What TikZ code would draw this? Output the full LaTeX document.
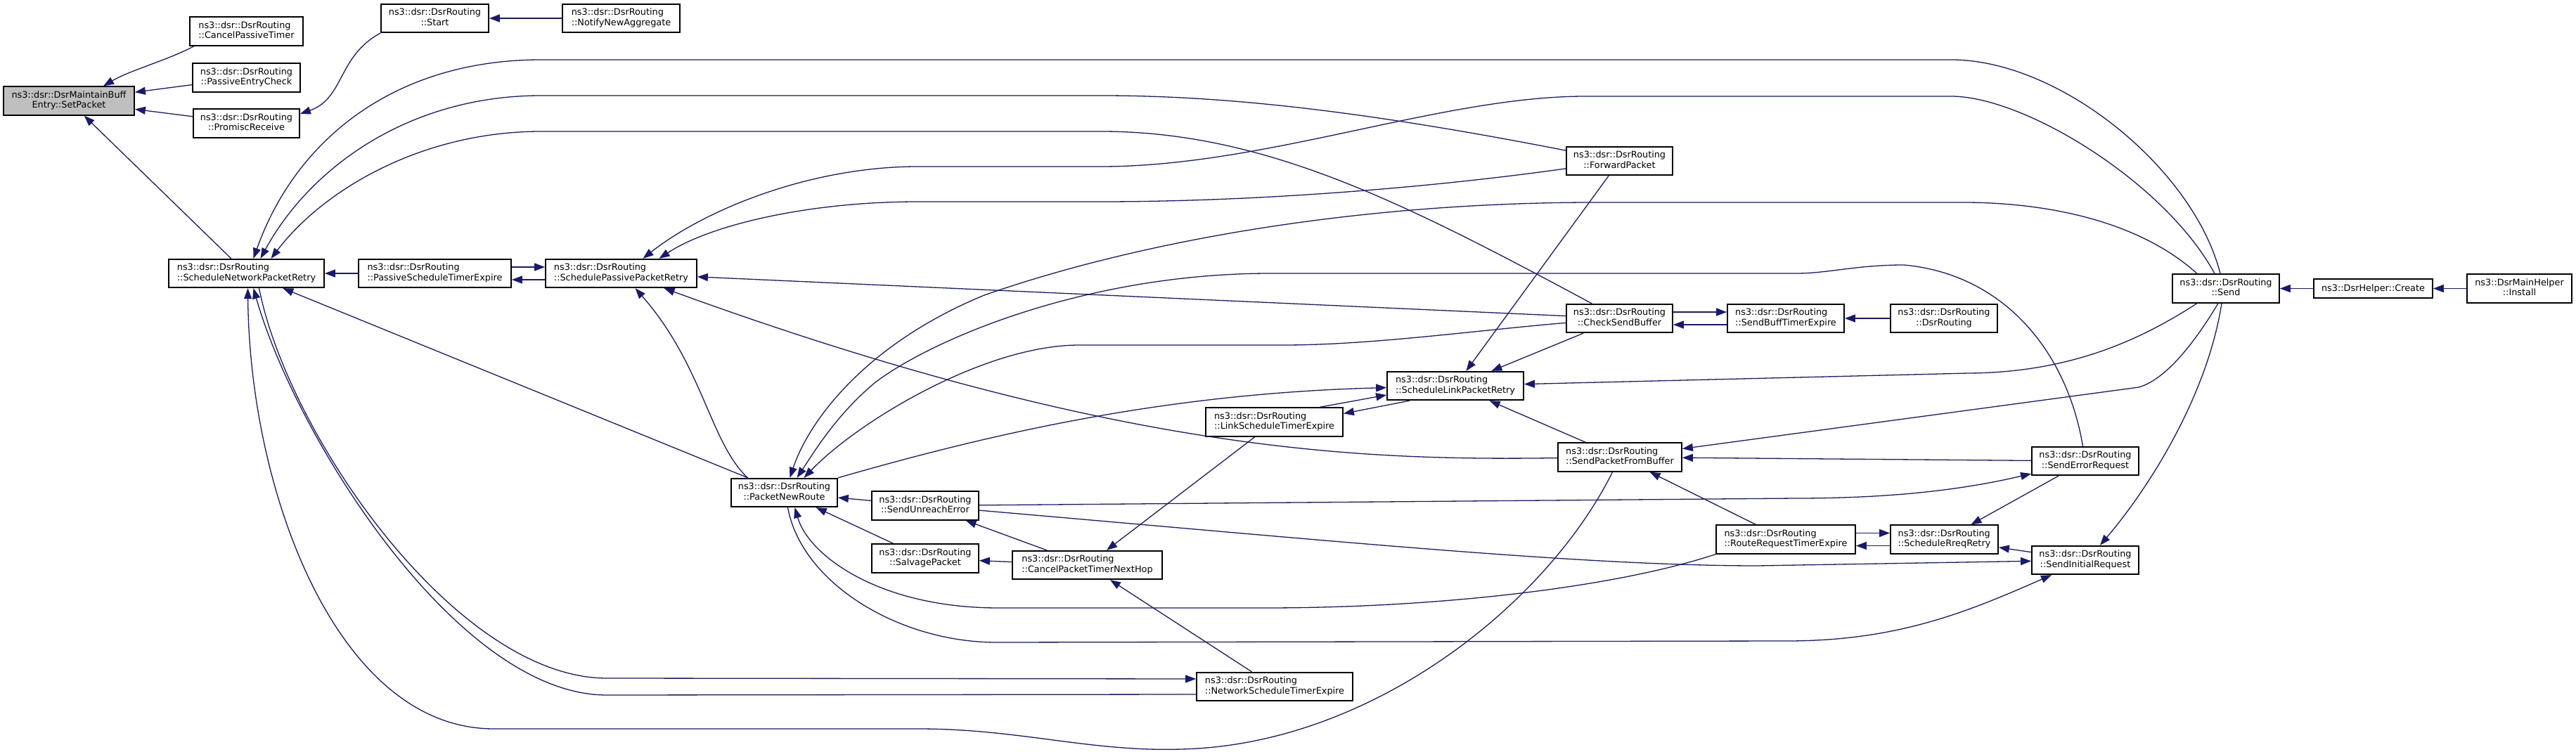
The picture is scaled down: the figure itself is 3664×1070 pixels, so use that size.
\documentclass[tikz,border=0pt]{standalone}
\usepackage{fontspec}
\setmainfont{DejaVu Sans}
\usepackage{tikz}
\usetikzlibrary{arrows.meta,calc}

\definecolor{edgeblue}{RGB}{25,25,112}
\definecolor{nodegray}{RGB}{191,191,191}

\newcommand{\twoline}[2]{\begin{tabular}{@{}l@{}}#1\\\multicolumn{1}{@{}c@{}}{#2}\end{tabular}}

\begin{document}
\begin{tikzpicture}[x=0.2mm, y=-0.2mm,
  fn/.style={draw, fill=white, line width=0.35mm, minimum width=#1, minimum height=8.1mm, inner sep=0.4mm, font=\fontsize{7.3}{8.4}\selectfont},
  call/.style={draw=edgeblue, line width=0.26mm, -{Triangle[length=3mm, width=2.2mm]}}]
\useasboundingbox (0,0) rectangle (3664,1070);

\node (setpkt) at (98,143.5) [fn=37.2mm, fill=nodegray] {\twoline{ns3::dsr::DsrMaintainBuff}{Entry::SetPacket}};
\node (cancel) at (350.5,44.5) [fn=32.2mm] {\twoline{ns3::dsr::DsrRouting}{::CancelPassiveTimer}};
\node (entry) at (350.5,110.5) [fn=30.6mm] {\twoline{ns3::dsr::DsrRouting}{::PassiveEntryCheck}};
\node (promisc) at (350.5,175.5) [fn=30.2mm] {\twoline{ns3::dsr::DsrRouting}{::PromiscReceive}};
\node (start) at (618.5,26) [fn=30.6mm] {\twoline{ns3::dsr::DsrRouting}{::Start}};
\node (notify) at (883.5,26) [fn=33.4mm] {\twoline{ns3::dsr::DsrRouting}{::NotifyNewAggregate}};
\node (snpr) at (350.5,389) [fn=44.2mm] {\twoline{ns3::dsr::DsrRouting}{::ScheduleNetworkPacketRetry}};
\node (pste) at (618.5,389) [fn=43.4mm] {\twoline{ns3::dsr::DsrRouting}{::PassiveScheduleTimerExpire}};
\node (sppr) at (883.5,389) [fn=43mm] {\twoline{ns3::dsr::DsrRouting}{::SchedulePassivePacketRetry}};
\node (pnr) at (1115.5,701) [fn=30.2mm] {\twoline{ns3::dsr::DsrRouting}{::PacketNewRoute}};
\node (sue) at (1316,719.5) [fn=30.4mm] {\twoline{ns3::dsr::DsrRouting}{::SendUnreachError}};
\node (salvage) at (1316,794.5) [fn=30.4mm] {\twoline{ns3::dsr::DsrRouting}{::SalvagePacket}};
\node (cptnh) at (1546.5,804) [fn=42.6mm] {\twoline{ns3::dsr::DsrRouting}{::CancelPacketTimerNextHop}};
\node (lste) at (1812.5,600.5) [fn=39mm] {\twoline{ns3::dsr::DsrRouting}{::LinkScheduleTimerExpire}};
\node (nste) at (1813,977) [fn=44.4mm] {\twoline{ns3::dsr::DsrRouting}{::NetworkScheduleTimerExpire}};
\node (slpr) at (2070,549) [fn=38.8mm] {\twoline{ns3::dsr::DsrRouting}{::ScheduleLinkPacketRetry}};
\node (fwd) at (2303.5,229) [fn=30.2mm] {\twoline{ns3::dsr::DsrRouting}{::ForwardPacket}};
\node (csb) at (2303.5,453) [fn=30.2mm] {\twoline{ns3::dsr::DsrRouting}{::CheckSendBuffer}};
\node (spfb) at (2304,650.5) [fn=35.2mm] {\twoline{ns3::dsr::DsrRouting}{::SendPacketFromBuffer}};
\node (sbte) at (2540,453) [fn=33.2mm] {\twoline{ns3::dsr::DsrRouting}{::SendBuffTimerExpire}};
\node (ctor) at (2765,453) [fn=30.4mm] {\twoline{ns3::dsr::DsrRouting}{::DsrRouting}};
\node (rrte) at (2540,767.5) [fn=39.6mm] {\twoline{ns3::dsr::DsrRouting}{::RouteRequestTimerExpire}};
\node (srr) at (2765.5,767.5) [fn=30.6mm] {\twoline{ns3::dsr::DsrRouting}{::ScheduleRreqRetry}};
\node (ser) at (2966,656) [fn=30.4mm] {\twoline{ns3::dsr::DsrRouting}{::SendErrorRequest}};
\node (sir) at (2966,797) [fn=30.4mm] {\twoline{ns3::dsr::DsrRouting}{::SendInitialRequest}};
\node (send) at (3166,410.5) [fn=30.4mm] {\twoline{ns3::dsr::DsrRouting}{::Send}};
\node (create) at (3375.5,410.5) [fn=33.8mm, minimum height=5.4mm] {ns3::DsrHelper::Create};
\node (install) at (3583.5,410.5) [fn=29.8mm] {\twoline{ns3::DsrMainHelper}{::Install}};

\draw[call] ($(cancel.south west)+(7,0)$) .. controls (240,85) and (185,100) .. ($(setpkt.north)+(49,0)$);
\draw[call] (entry) -- (setpkt);
\draw[call] (promisc) -- (setpkt);
\draw[call] (snpr) -- (setpkt);
\draw[call] (start.south west) .. controls (480,80) and (490,140) .. (promisc.10);
\draw[call] (notify) -- (start);
\draw[call] (pste) -- (snpr);
\draw[call] ($(pste.east)+(0,-9)$) -- ($(sppr.west)+(0,-9)$);
\draw[call] ($(sppr.west)+(0,9)$) -- ($(pste.east)+(0,9)$);

\draw[call] ($(send.north)+(-8,0)$) .. controls (3120,240) and (2930,85) .. (2775,85) -- (770,85) .. controls (560,85) and (420,200) .. ($(snpr.north)+(10,0)$);
\draw[call] (fwd) .. controls (1950,160) and (1750,136) .. (1566,136) -- (770,136) .. controls (580,136) and (440,240) .. ($(snpr.north)+(20,0)$);
\draw[call] (csb) .. controls (2000,290) and (1800,187) .. (1566,187) -- (770,187) .. controls (600,187) and (460,270) .. ($(snpr.north)+(35,0)$);
\draw[call] (pnr) -- (snpr);
\draw[call] (spfb) .. controls (2200,860) and (1950,1060) .. (1680,1066) .. controls (1550,1070) and (1450,1037) .. (1306,1037) -- (702,1037) .. controls (480,1037) and (355,700) .. ($(snpr.south)+(2,0)$);
\draw[call] ($(nste.west)+(0,11)$) -- (863,989) .. controls (650,989) and (420,620) .. ($(snpr.south)+(10,0)$);
\draw[call] ($(snpr.south)+(18,0)$) .. controls (410,620) and (650,965) .. (863,965) -- ($(nste.west)+(0,-11)$);

\draw[call] ($(send.north)+(-16,0)$) .. controls (3080,260) and (2880,137) .. (2775,137) -- (2255,137) .. controls (2050,137) and (1800,237) .. (1566,237) -- (1306,237) .. controls (1150,237) and (1000,300) .. ($(sppr.north)+(31,0)$);
\draw[call] (fwd) .. controls (2050,265) and (1800,287) .. (1566,287) -- (1306,287) .. controls (1150,287) and (1010,320) .. ($(sppr.north)+(54,0)$);
\draw[call] (csb) -- (sppr);
\draw[call] ($(pnr.north)+(-52,0)$) .. controls (1010,630) and (1000,520) .. ($(sppr.south)+(20,0)$);
\draw[call] (spfb) .. controls (1950,655) and (1600,649) .. ($(sppr.south)+(61,0)$);

\draw[call] ($(send.north)+(-41,0)$) .. controls (3060,330) and (2950,290) .. (2800,288) -- (2255,288) .. controls (1900,290) and (1600,350) .. (1400,420) .. controls (1230,490) and (1150,600) .. ($(pnr.north)+(8,0)$);
\draw[call] (ser) .. controls (2940,500) and (2850,390) .. (2708,377) .. controls (2640,377) and (2600,389) .. (2555,389) -- (1807,389) .. controls (1550,389) and (1330,480) .. (1245,544) .. controls (1190,590) and (1160,640) .. ($(pnr.north)+(18,0)$);
\draw[call] (csb) .. controls (2100,470) and (1950,491) .. (1826,491) -- (1535,491) .. controls (1400,491) and (1220,600) .. ($(pnr.north)+(28,0)$);
\draw[call] (sue) -- (pnr);
\draw[call] (salvage) -- (pnr);
\draw[call] (rrte.south west) .. controls (2300,835) and (2050,865) .. (1800,865) -- (1420,865) .. controls (1250,865) and (1150,790) .. ($(pnr.south)+(15,0)$);
\draw[call] (pnr.north east) .. controls (1400,620) and (1650,560) .. (slpr);
\draw[call] ($(pnr.south)+(5,0)$) .. controls (1140,830) and (1280,915) .. (1420,914) -- (2542,912) .. controls (2700,912) and (2800,870) .. (sir);

\draw[call] (sue) -- (2555,709) .. controls (2700,709) and (2800,695) .. (ser);
\draw[call] (sue) .. controls (1900,770) and (2250,805) .. (2500,805) -- (sir);
\draw[call] (cptnh) -- (sue);
\draw[call] (cptnh) -- (salvage);
\draw[call] (lste) -- (cptnh);
\draw[call] (nste) -- (cptnh);
\draw[call] ($(lste.north east)+(-34,0)$) -- ($(slpr.west)+(0,13)$);
\draw[call] ($(slpr.south west)+(33,0)$) -- ($(lste.east)+(0,-12)$);

\draw[call] ($(send.south)+(-41,0)$) .. controls (3050,480) and (2950,530) .. (2800,531) -- (slpr);
\draw[call] ($(send.south)+(-11,0)$) .. controls (3120,490) and (3080,540) .. (3042,551) -- (spfb);
\draw[call] ($(send.south)+(-6,0)$) .. controls (3140,560) and (3060,690) .. ($(sir.north)+(21,0)$);
\draw[call] (spfb) -- (slpr);
\draw[call] (csb) -- (slpr);
\draw[call] (fwd) -- (slpr);
\draw[call] ($(csb.east)+(0,-9)$) -- ($(sbte.west)+(0,-9)$);
\draw[call] ($(sbte.west)+(0,9)$) -- ($(csb.east)+(0,9)$);
\draw[call] (ctor) -- (sbte);
\draw[call] (ser) -- (spfb);
\draw[call] (rrte) -- (spfb);
\draw[call] ($(rrte.east)+(0,-9)$) -- ($(srr.west)+(0,-9)$);
\draw[call] ($(srr.west)+(0,9)$) -- ($(rrte.east)+(0,9)$);
\draw[call] (ser) -- (srr);
\draw[call] (sir) -- (srr);
\draw[call] (create) -- (send);
\draw[call] (install) -- (create);
\end{tikzpicture}
\end{document}
